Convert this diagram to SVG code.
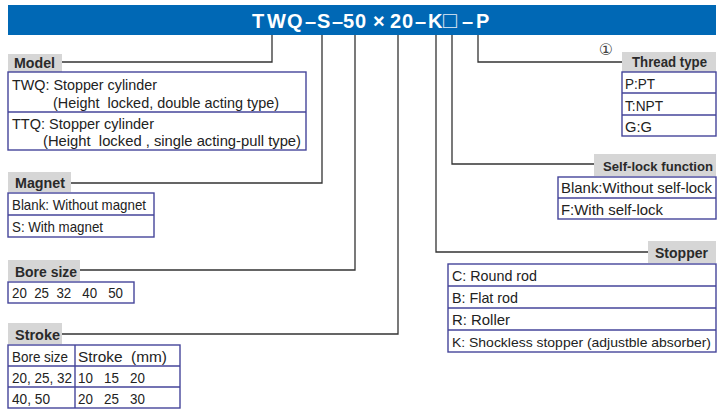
<svg xmlns="http://www.w3.org/2000/svg" width="722" height="410" viewBox="0 0 722 410">
<style>
text{white-space:pre}
.t{font-family:"Liberation Sans",Arial,sans-serif;font-size:15px;fill:#222}
.lb{font-family:"Liberation Sans",Arial,sans-serif;font-size:14.5px;font-weight:bold;fill:#2a2a2a}
.lbg{fill:#d6d6d6}
.box{fill:#fff;stroke:#45459a;stroke-width:1.4}
.div{stroke:#45459a;stroke-width:1.4}
.con{fill:none;stroke:#333;stroke-width:1.3}
</style>
<rect width="722" height="410" fill="#fff"/>
<g id="header">
<rect x="8" y="5" width="708" height="30" fill="#0068b5"/>
<text x="252 267 287 305 317 332 343 355 373 390 402 415 428 443 462 476" y="28" font-family="'Liberation Sans',Arial,'DejaVu Sans',sans-serif" font-size="20" font-weight="bold" fill="#fff">TWQ–S–50×20–K<tspan font-size="23" font-weight="normal" fill="#e3ebf5">□</tspan>–P</text>
</g>
<g id="connectors">
<polyline class="con" points="272,35 272,62 62,62"/>
<polyline class="con" points="322,35 322,183 71,183"/>
<polyline class="con" points="355,35 355,270 80,270"/>
<polyline class="con" points="398,35 398,334 62,334"/>
<polyline class="con" points="436,35 436,252 648,252"/>
<polyline class="con" points="452,35 452,164 594,164"/>
<polyline class="con" points="478,35 478,62 622,62"/>
</g>
<g id="model">
<rect class="lbg" x="8" y="54" width="54" height="18"/>
<text class="lb" x="14" y="68" textLength="41" lengthAdjust="spacingAndGlyphs">Model</text>
<rect class="box" x="8" y="72" width="298" height="78"/>
<line class="div" x1="8" y1="112" x2="306" y2="112"/>
<text class="t" x="12" y="90" textLength="145" lengthAdjust="spacingAndGlyphs">TWQ: Stopper cylinder</text>
<text class="t" x="53" y="108" textLength="226" lengthAdjust="spacingAndGlyphs">(Height  locked, double acting type)</text>
<text class="t" x="12" y="129" textLength="142" lengthAdjust="spacingAndGlyphs">TTQ: Stopper cylinder</text>
<text class="t" x="43" y="146" textLength="258" lengthAdjust="spacingAndGlyphs">(Height  locked , single acting-pull type)</text>
</g>
<g id="magnet">
<rect class="lbg" x="8" y="172" width="63" height="20"/>
<text class="lb" x="15" y="188" textLength="50" lengthAdjust="spacingAndGlyphs">Magnet</text>
<rect class="box" x="8" y="193" width="146" height="44"/>
<line class="div" x1="8" y1="215" x2="154" y2="215"/>
<text class="t" x="12" y="210" textLength="134" lengthAdjust="spacingAndGlyphs">Blank: Without magnet</text>
<text class="t" x="12" y="232" textLength="91" lengthAdjust="spacingAndGlyphs">S: With magnet</text>
</g>
<g id="bore">
<rect class="lbg" x="8" y="260" width="72" height="21"/>
<text class="lb" x="15" y="277" textLength="62" lengthAdjust="spacingAndGlyphs">Bore size</text>
<rect class="box" x="8" y="282" width="126" height="21"/>
<text class="t" x="12" y="298" textLength="111" lengthAdjust="spacingAndGlyphs">20  25  32   40   50</text>
</g>
<g id="stroke">
<rect class="lbg" x="8" y="323" width="54" height="21"/>
<text class="lb" x="15" y="340" textLength="45" lengthAdjust="spacingAndGlyphs">Stroke</text>
<rect class="box" x="8" y="345" width="172" height="63"/>
<line class="div" x1="8" y1="366" x2="180" y2="366"/>
<line class="div" x1="8" y1="387" x2="180" y2="387"/>
<line class="div" x1="75" y1="345" x2="75" y2="408"/>
<text class="t" x="12" y="362" textLength="56" lengthAdjust="spacingAndGlyphs">Bore size</text>
<text class="t" x="78" y="362" textLength="89" lengthAdjust="spacingAndGlyphs">Stroke  (mm)</text>
<text class="t" x="12" y="383" textLength="60" lengthAdjust="spacingAndGlyphs">20, 25, 32</text>
<text class="t" x="78" y="383" textLength="67" lengthAdjust="spacingAndGlyphs">10   15   20</text>
<text class="t" x="12" y="404" textLength="38" lengthAdjust="spacingAndGlyphs">40, 50</text>
<text class="t" x="78" y="404" textLength="67" lengthAdjust="spacingAndGlyphs">20   25   30</text>
</g>
<g id="thread">
<text x="606" y="55" text-anchor="middle" font-family="'DejaVu Sans',sans-serif" font-size="16" fill="#444">①</text>
<rect class="lbg" x="622" y="52" width="94" height="20"/>
<text class="lb" x="632" y="67" textLength="75" lengthAdjust="spacingAndGlyphs">Thread type</text>
<rect class="box" x="622" y="72" width="94" height="64"/>
<line class="div" x1="622" y1="93" x2="716" y2="93"/>
<line class="div" x1="622" y1="115" x2="716" y2="115"/>
<text class="t" x="625" y="89" textLength="30" lengthAdjust="spacingAndGlyphs">P:PT</text>
<text class="t" x="625" y="111" textLength="38" lengthAdjust="spacingAndGlyphs">T:NPT</text>
<text class="t" x="625" y="132" textLength="27" lengthAdjust="spacingAndGlyphs">G:G</text>
</g>
<g id="selflock">
<rect class="lbg" x="594" y="154" width="122" height="22"/>
<text class="lb" x="603" y="171" style="font-size:12.5px" textLength="110" lengthAdjust="spacingAndGlyphs">Self-lock function</text>
<rect class="box" x="558" y="177" width="158" height="42"/>
<line class="div" x1="558" y1="198" x2="716" y2="198"/>
<text class="t" x="561" y="193" textLength="151" lengthAdjust="spacingAndGlyphs">Blank:Without self-lock</text>
<text class="t" x="561" y="215" textLength="102" lengthAdjust="spacingAndGlyphs">F:With self-lock</text>
</g>
<g id="stopper">
<rect class="lbg" x="648" y="241" width="68" height="22"/>
<text class="lb" x="655" y="258" textLength="53" lengthAdjust="spacingAndGlyphs">Stopper</text>
<rect class="box" x="448" y="264" width="268" height="88"/>
<line class="div" x1="448" y1="286" x2="716" y2="286"/>
<line class="div" x1="448" y1="308" x2="716" y2="308"/>
<line class="div" x1="448" y1="330" x2="716" y2="330"/>
<text class="t" x="452" y="281" textLength="85" lengthAdjust="spacingAndGlyphs">C: Round rod</text>
<text class="t" x="452" y="303" textLength="66" lengthAdjust="spacingAndGlyphs">B: Flat rod</text>
<text class="t" x="452" y="325" textLength="58" lengthAdjust="spacingAndGlyphs">R: Roller</text>
<text class="t" x="452" y="347" style="font-size:13.5px" textLength="259" lengthAdjust="spacingAndGlyphs">K: Shockless stopper (adjustble absorber)</text>
</g>
</svg>
